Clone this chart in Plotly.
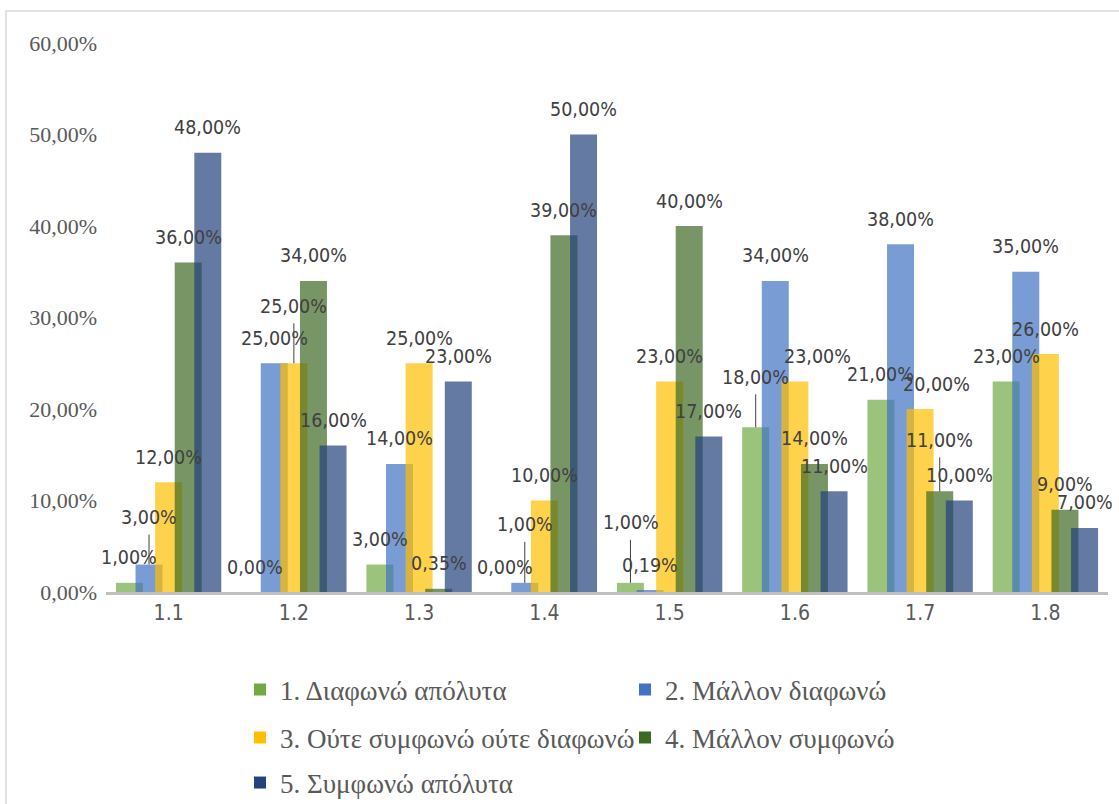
import plotly.graph_objects as go

# ---------------- data ----------------
categories = ["1.1", "1.2", "1.3", "1.4", "1.5", "1.6", "1.7", "1.8"]
series_names = [
    "1. Διαφωνώ απόλυτα",
    "2. Μάλλον διαφωνώ",
    "3. Ούτε συμφωνώ ούτε διαφωνώ",
    "4. Μάλλον συμφωνώ",
    "5. Συμφωνώ απόλυτα",
]
s1_values = [1, 0, 3, 0, 1, 18, 21, 23]
s2_values = [3, 25, 14, 1, 0.19, 34, 38, 35]
s3_values = [12, 25, 25, 10, 23, 23, 20, 26]
s4_values = [36, 34, 0.35, 39, 40, 14, 11, 9]
s5_values = [48, 16, 23, 50, 17, 11, 10, 7]
y_tick_values = [0, 10, 20, 30, 40, 50, 60]
y_tick_labels = ["0,00%", "10,00%", "20,00%", "30,00%", "40,00%", "50,00%", "60,00%"]

all_values = [s1_values, s2_values, s3_values, s4_values, s5_values]

# ---------------- styles ----------------
colors = ["#72A944", "#4272C2", "#FFBF00", "#3E6824", "#24427C"]
BAR_OPACITY = 0.7
BAR_WIDTH = 0.2155
BAR_STEP = 0.1564
GROUP_START = -0.4206
NARROW = "DejaVu Sans Condensed, Roboto, sans-serif"
LABEL_FONT = dict(family=NARROW, size=19.5, color="#404040")
SERIF = "Liberation Serif, Times New Roman, serif"
LABEL_GAP = 25
# manual label nudges (series index, category index): (dx px, up px, leader line)
label_nudges = {
    (1, 0): (0, 22, True),
    (2, 1): (0, 32, True),
    (1, 3): (0, 33, True),
    (0, 4): (1, 35, True),
    (0, 5): (0, 25, True),
    (2, 5): (23, 0, False),
    (2, 6): (16, 0, False),
    (3, 6): (0, 26, True),
}

W, H = 1119, 804
ML, MR, MT, MB = 106, 11, 43, 212

fig = go.Figure()
xs = list(range(len(categories)))
legend_of = ["legend", "legend", "legend2", "legend2", "legend3"]

annotations = []
shapes = []
for si, (name, vals) in enumerate(zip(series_names, all_values)):
    off = GROUP_START + si * BAR_STEP
    fig.add_trace(go.Bar(
        x=xs, y=vals, name=name,
        offset=off, width=BAR_WIDTH,
        marker=dict(color=colors[si], opacity=BAR_OPACITY, line=dict(width=0)),
        legend=legend_of[si],
        hoverinfo="skip",
    ))
    for ci, v in enumerate(vals):
        dx, up, leader = label_nudges.get((si, ci), (0, 0, False))
        cx = ci + off + BAR_WIDTH / 2
        txt = f"{v:.2f}".replace(".", ",") + "%"
        annotations.append(dict(
            x=cx, y=v, xref="x", yref="y", text=txt, showarrow=False,
            xanchor="center", yanchor="middle", xshift=dx, yshift=LABEL_GAP + up,
            font=LABEL_FONT,
        ))
        if leader:
            shapes.append(dict(
                type="line", xref="x", yref="y", ysizemode="pixel", yanchor=v,
                x0=cx, x1=cx, y0=0, y1=LABEL_GAP + up - 17,
                line=dict(color="#404040", width=1),
            ))

# outer chart border (extends beyond the picture at right/bottom)
plot_w = W - ML - MR
plot_h = H - MT - MB
shapes.append(dict(
    type="rect", xref="paper", yref="paper", layer="below",
    x0=(6 - ML) / plot_w, x1=1.2, y0=-0.6, y1=(H - MB - 11) / plot_h,
    line=dict(color="#D9D9D9", width=1.5), fillcolor="rgba(0,0,0,0)",
))

legend_common = dict(
    orientation="h", xref="container", yref="container",
    xanchor="left", yanchor="middle", x=240 / W,
    entrywidth=340, entrywidthmode="pixels",
    font=dict(family=SERIF, size=27, color="#595959"),
    bgcolor="rgba(0,0,0,0)", traceorder="normal",
)

fig.update_layout(
    width=W, height=H,
    margin=dict(l=ML, r=MR, t=MT, b=MB, autoexpand=False),
    paper_bgcolor="white", plot_bgcolor="white",
    barmode="overlay",
    showlegend=True,
    legend=dict(legend_common, y=1 - 690 / H),
    legend2=dict(legend_common, y=1 - 738 / H),
    legend3=dict(legend_common, y=1 - 783 / H),
    annotations=annotations,
    shapes=shapes,
    xaxis=dict(
        range=[-0.5, len(categories) - 0.5],
        tickvals=xs, ticktext=categories,
        showline=True, linecolor="#BFBFBF", linewidth=3,
        showgrid=False, zeroline=False, ticks="",
        tickfont=dict(family=NARROW, size=21, color="#595959"),
        automargin=False, fixedrange=True,
    ),
    yaxis=dict(
        range=[0, 60],
        tickvals=y_tick_values, ticktext=y_tick_labels,
        showline=False, showgrid=False, zeroline=False, ticks="",
        tickfont=dict(family=SERIF, size=22, color="#595959"),
        ticklabelstandoff=8,
        automargin=False, fixedrange=True,
    ),
)

fig.write_html(
    "out.html",
    config={"displayModeBar": False},
    post_script="document.body.style.margin='0';",
)
